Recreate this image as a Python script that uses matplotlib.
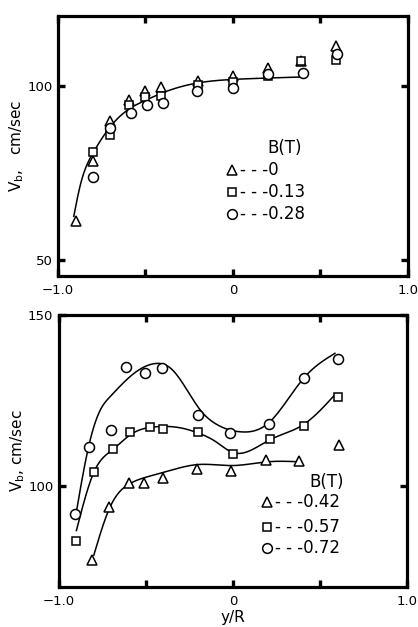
import numpy as np
import matplotlib
matplotlib.use("Agg")
import matplotlib.pyplot as plt

plt.rcParams['font.family'] = ['DejaVu Sans']

# ---------------- upper panel: B = 0, 0.13, 0.28 T ----------------
x_b0 = [-0.90, -0.80, -0.70, -0.595, -0.50, -0.41, -0.20, 0.00, 0.20, 0.39, 0.59]
v_b0 = [61.2, 78.5, 90.0, 96.0, 98.4, 99.6, 101.4, 102.9, 105.0, 107.0, 111.3]

x_b13 = [-0.80, -0.70, -0.595, -0.50, -0.41, -0.20, 0.00, 0.20, 0.39, 0.59]
v_b13 = [81.1, 85.9, 94.5, 96.9, 97.0, 100.3, 101.0, 102.7, 107.0, 107.5]

x_b28 = [-0.80, -0.70, -0.58, -0.49, -0.40, -0.205, 0.00, 0.20, 0.40, 0.595]
v_b28 = [73.9, 87.8, 92.2, 94.5, 95.0, 98.6, 99.3, 103.4, 103.6, 109.2]

# hand-drawn trend line through the upper panel
fit_top_x = [-0.91, -0.875, -0.80, -0.70, -0.60, -0.50, -0.40, -0.20, 0.00, 0.20, 0.39]
fit_top_v = [62.5, 71.0, 80.7, 88.3, 93.1, 95.8, 98.0, 100.8, 101.8, 102.2, 102.5]

# ---------------- lower panel: B = 0.42, 0.57, 0.72 T ----------------
x_b42 = [-0.81, -0.71, -0.60, -0.51, -0.40, -0.21, -0.013, 0.19, 0.38, 0.61]
v_b42 = [78.4, 93.8, 101.0, 101.0, 102.5, 105.0, 104.4, 107.6, 107.3, 112.0]

x_b57 = [-0.90, -0.80, -0.69, -0.59, -0.48, -0.40, -0.20, 0.00, 0.21, 0.405, 0.60]
v_b57 = [83.9, 104.2, 110.7, 115.9, 117.2, 116.7, 115.7, 109.4, 113.7, 117.5, 126.0]

x_b72 = [-0.91, -0.83, -0.70, -0.615, -0.507, -0.41, -0.20, -0.017, 0.205, 0.405, 0.60]
v_b72 = [91.7, 111.5, 116.4, 134.7, 133.0, 134.5, 120.8, 115.6, 118.1, 131.5, 137.0]

fit42_x = [-0.80, -0.71, -0.60, -0.50, -0.40, -0.20, 0.00, 0.20, 0.38]
fit42_v = [79.8, 93.5, 100.5, 102.6, 104.0, 106.3, 106.0, 107.1, 107.1]

fit57_x = [-0.90, -0.80, -0.69, -0.59, -0.45, -0.30, -0.20, -0.10, 0.00, 0.21, 0.405, 0.59]
fit57_v = [87.0, 104.0, 110.7, 115.0, 117.3, 117.0, 115.5, 113.0, 109.8, 113.5, 118.0, 127.0]

fit72_x = [-0.905, -0.83, -0.76, -0.707, -0.58, -0.45, -0.36, -0.18, -0.118, 0.034, 0.205, 0.405, 0.585]
fit72_v = [91.0, 111.5, 122.5, 126.1, 132.5, 135.8, 134.5, 121.7, 118.8, 115.9, 118.5, 131.5, 138.8]

legend_top = ["0", "0.13", "0.28"]
legend_bot = ["0.42", "0.57", "0.72"]


def smooth(xk, yk, n=300):
    """Natural cubic spline through the knots."""
    xk = np.asarray(xk, float)
    yk = np.asarray(yk, float)
    m = len(xk)
    h = np.diff(xk)
    A = np.zeros((m, m))
    r = np.zeros(m)
    A[0, 0] = A[-1, -1] = 1.0
    for i in range(1, m - 1):
        A[i, i - 1] = h[i - 1]
        A[i, i] = 2 * (h[i - 1] + h[i])
        A[i, i + 1] = h[i]
        r[i] = 6 * ((yk[i + 1] - yk[i]) / h[i] - (yk[i] - yk[i - 1]) / h[i - 1])
    M = np.linalg.solve(A, r)
    xs = np.linspace(xk[0], xk[-1], n)
    idx = np.clip(np.searchsorted(xk, xs) - 1, 0, m - 2)
    x0, x1 = xk[idx], xk[idx + 1]
    hh = x1 - x0
    t0, t1 = x1 - xs, xs - x0
    ys = (M[idx] * t0 ** 3 + M[idx + 1] * t1 ** 3) / (6 * hh) \
        + (yk[idx] / hh - M[idx] * hh / 6) * t0 \
        + (yk[idx + 1] / hh - M[idx + 1] * hh / 6) * t1
    return xs, ys


fig = plt.figure(figsize=(4.18, 6.27), dpi=100)
ax1 = fig.add_axes([0.1388, 0.5598, 0.837, 0.4147])
ax2 = fig.add_axes([0.1411, 0.0638, 0.833, 0.4338])

mk = dict(linestyle='none', markerfacecolor='white', markeredgecolor='black',
          markeredgewidth=1.1, color='black')


def style(ax, ylim, yticks):
    ax.set_xlim(-1.0, 1.0)
    ax.set_ylim(*ylim)
    ax.set_xticks([-1.0, -0.5, 0.0, 0.5, 1.0])
    ax.set_xticklabels(['\u22121.0', '', '0', '', '1.0'])
    ax.set_yticks(yticks)
    ax.set_yticklabels([str(t) for t in yticks])
    for s in ax.spines.values():
        s.set_linewidth(2.3)
    ax.tick_params(direction='in', length=5, width=2.4, top=True, right=True,
                   labelsize=9.5, pad=4)
    ax.tick_params(axis='x', pad=6)


# upper panel
ax1.plot(*smooth(fit_top_x, fit_top_v), color='black', lw=1.1, zorder=2)
ax1.plot(x_b0, v_b0, marker='^', markersize=7.2, zorder=3, **mk)
ax1.plot(x_b13, v_b13, marker='s', markersize=6.2, zorder=3, **mk)
ax1.plot(x_b28, v_b28, marker='o', markersize=7.2, zorder=3, **mk)
style(ax1, (45.4, 120.0), [50, 100])
ax1.set_ylabel('V$_{\\rm b}$,   cm/sec', fontsize=11, labelpad=1)

ax1.text(0.649, 0.492, 'B(T)', transform=ax1.transAxes, ha='center', va='center', fontsize=12)
for yy, m, ms, lab in zip([0.408, 0.323, 0.238], ['^', 's', 'o'], [7, 6, 7], legend_top):
    ax1.plot([0.497], [yy], marker=m, markersize=ms, transform=ax1.transAxes,
             clip_on=False, zorder=4, **mk)
    ax1.text(0.520, yy, '- - -' + lab, transform=ax1.transAxes, ha='left', va='center', fontsize=12)

# lower panel
for fx, fv in [(fit42_x, fit42_v), (fit57_x, fit57_v), (fit72_x, fit72_v)]:
    ax2.plot(*smooth(fx, fv), color='black', lw=1.1, zorder=2)
ax2.plot(x_b42, v_b42, marker='^', markersize=7.2, zorder=3, **mk)
ax2.plot(x_b57, v_b57, marker='s', markersize=6.2, zorder=3, **mk)
ax2.plot(x_b72, v_b72, marker='o', markersize=7.2, zorder=3, **mk)
style(ax2, (70.5, 150.0), [100, 150])
ax2.set_ylabel('V$_{\\rm b}$, cm/sec', fontsize=11, labelpad=1)
ax2.set_xlabel('y/R', fontsize=11, labelpad=1)

ax2.text(0.770, 0.386, 'B(T)', transform=ax2.transAxes, ha='center', va='center', fontsize=12)
for yy, m, ms, lab in zip([0.3125, 0.221, 0.143], ['^', 's', 'o'], [7, 6, 7], legend_bot):
    ax2.plot([0.598], [yy], marker=m, markersize=ms, transform=ax2.transAxes,
             clip_on=False, zorder=4, **mk)
    ax2.text(0.620, yy, '- - -' + lab, transform=ax2.transAxes, ha='left', va='center', fontsize=12)

fig.savefig('out.png', dpi=100)
